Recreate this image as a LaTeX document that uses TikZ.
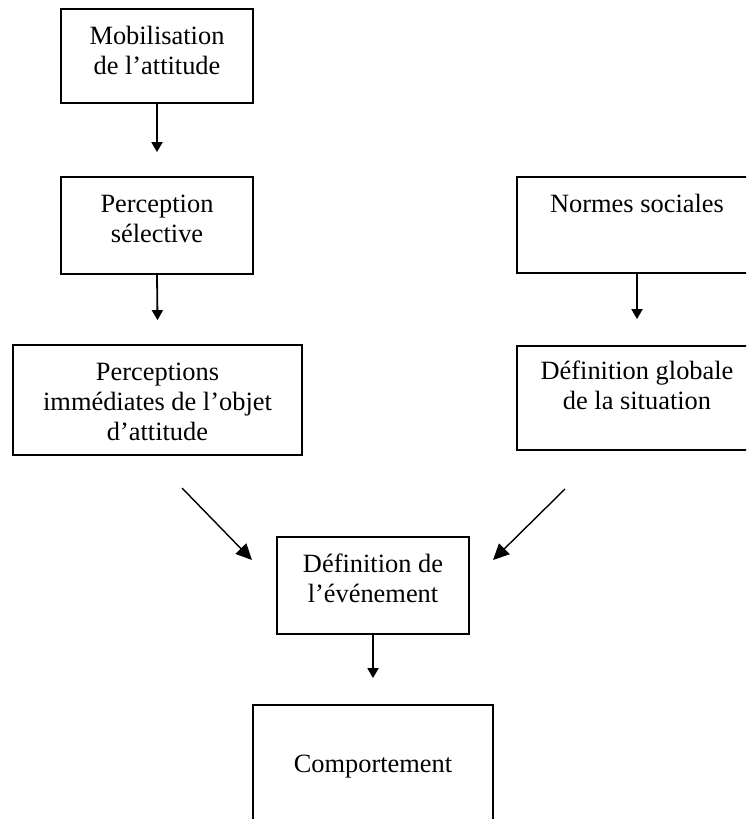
\documentclass[tikz,border=0pt]{standalone}
\usepackage{fontspec}
\setmainfont{Liberation Serif}
\usetikzlibrary{arrows.meta}
\newcommand{\contenu}[4][17.5pt]{\parbox[c][#3][t]{#2}{\centering\rule{0pt}{#1}#4}}
\tikzset{
  etape/.style={draw,line width=0.9pt,inner sep=0pt},
  fleche/.style={line width=0.9pt,-{Triangle[length=5pt,width=5.5pt]}},
  oblique/.style={line width=0.7pt,-{Triangle[length=8pt,width=7.5pt]}}
}
\begin{document}
\begin{tikzpicture}[x=0.5pt,y=-0.5pt,font=\fontsize{13.2}{15.2}\selectfont]
\useasboundingbox (0,0) rectangle (746,819);
\clip (0,0) rectangle (746,819);
\node [etape] (mob) at (157,56) {\contenu{96pt}{47pt}{Mobilisation\\de l’attitude}};
\node [etape] (sel) at (157,225.5) {\contenu{96pt}{48.5pt}{Perception\\sélective}};
\node [etape] (imm) at (157.5,400) {\contenu{144.5pt}{55pt}{Perceptions\\immédiates de l’objet\\d’attitude}};
\node [etape] (norm) at (637,225) {\contenu{120pt}{48pt}{Normes sociales}};
\node [etape] (glob) at (637,398) {\contenu[16.5pt]{120pt}{52pt}{Définition globale\\de la situation}};
\node [etape] (evt) at (373,585.5) {\contenu{96pt}{48.5pt}{Définition de\\l’événement}};
\node [etape] (comp) at (373,775) {\contenu[33.5pt]{120pt}{70pt}{Comportement}};
\coordinate (g1) at (182,488);
\coordinate (g2) at (252,560);
\coordinate (d1) at (565,489);
\coordinate (d2) at (493,560);
\draw [fleche] (mob.south) -- ([yshift=12pt]sel.north);
\draw [fleche] (sel.south) -- ([yshift=12pt]imm.north);
\draw [fleche] (norm.south) -- ([yshift=13pt]glob.north);
\draw [fleche] (evt.south) -- ([yshift=13pt]comp.north);
\draw [oblique] (g1) -- (g2);
\draw [oblique] (d1) -- (d2);
\end{tikzpicture}
\end{document}
